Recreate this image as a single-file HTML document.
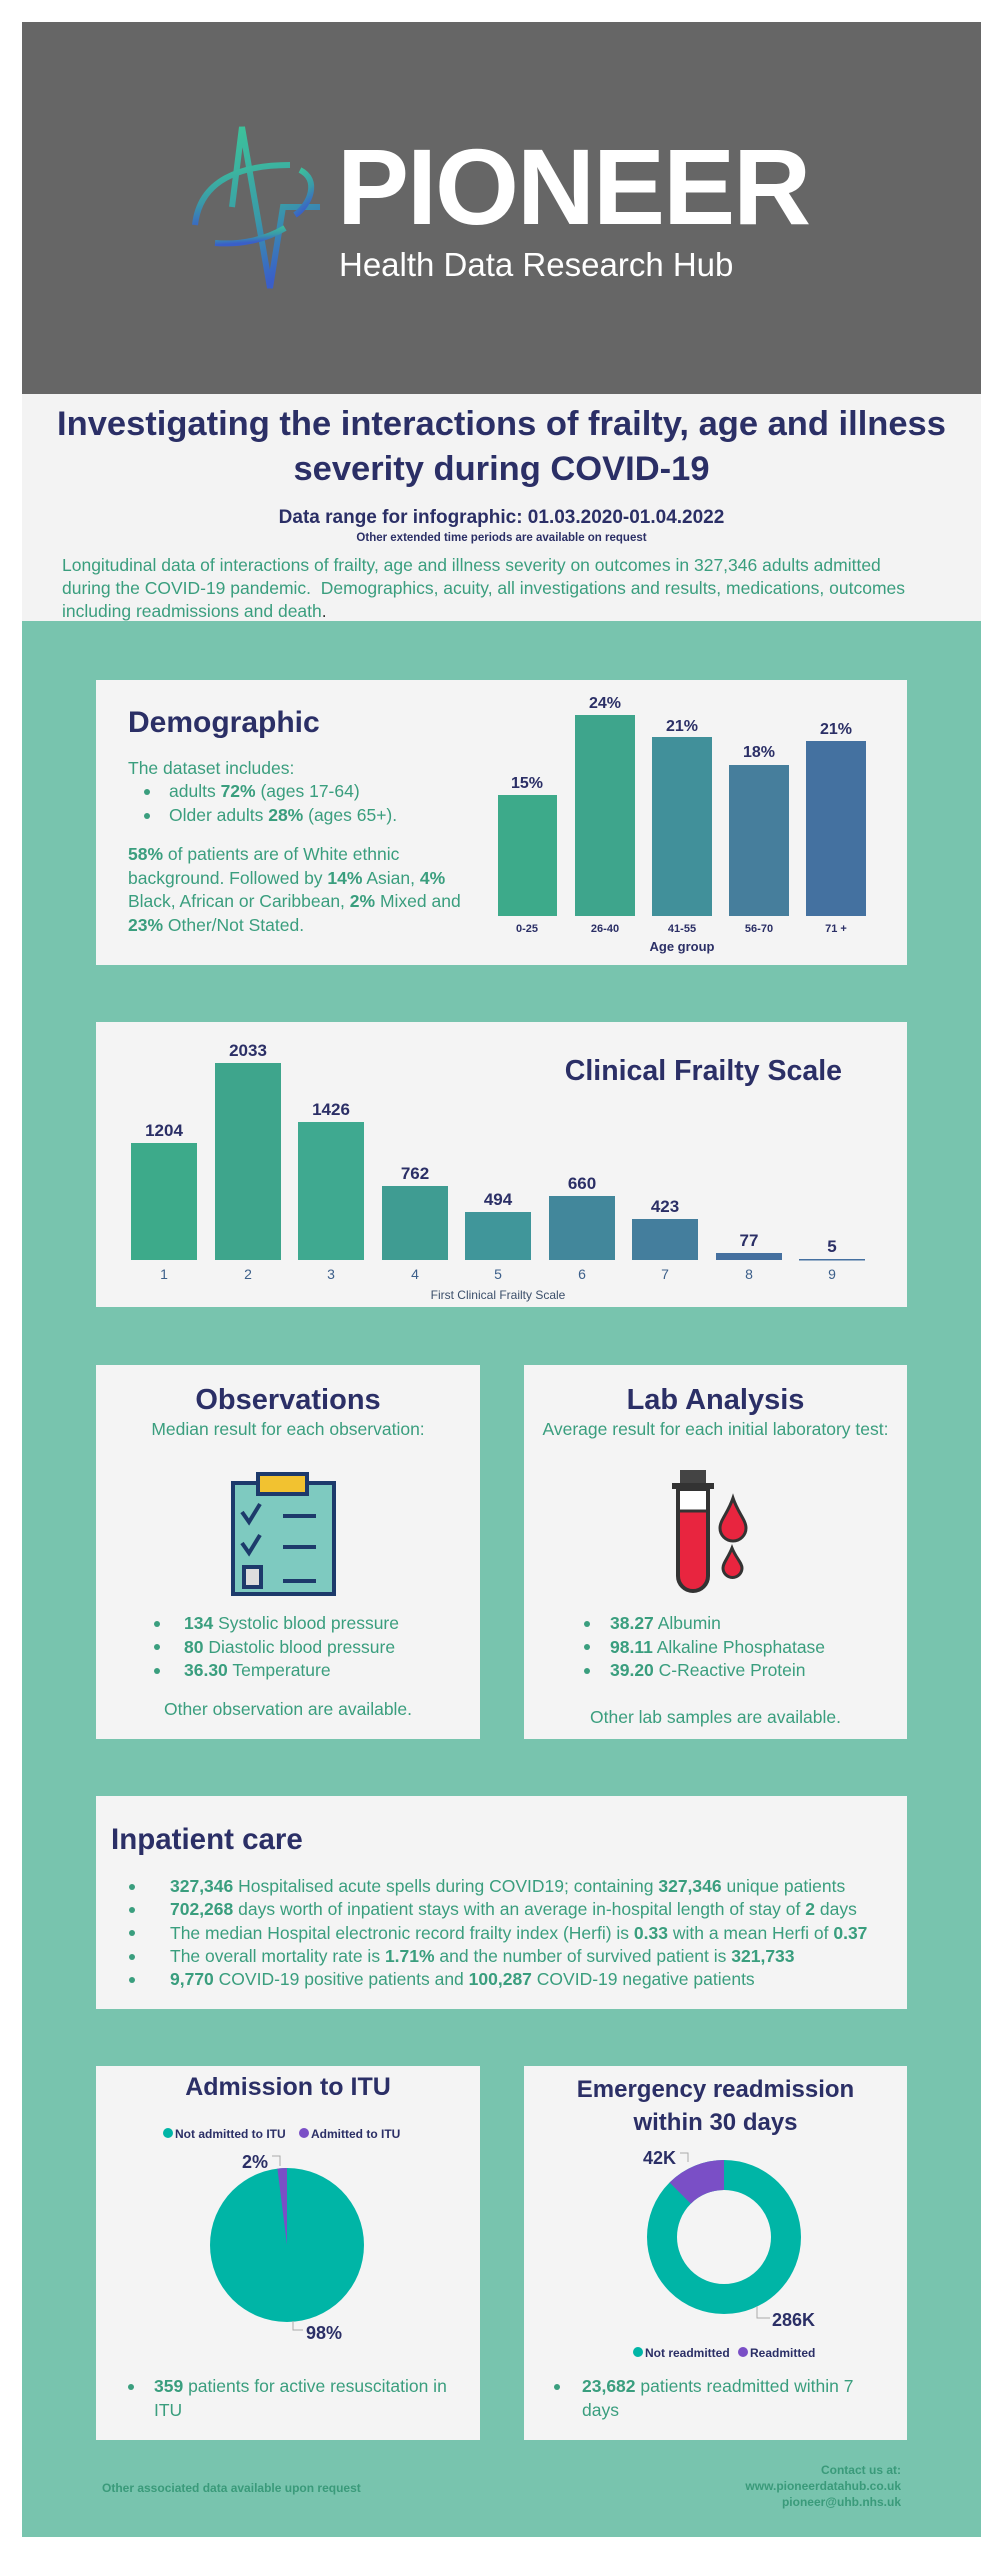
<!DOCTYPE html>
<html><head><meta charset="utf-8"><style>
*{margin:0;padding:0;box-sizing:border-box}
body{width:1003px;height:2560px;background:#fff;position:relative;font-family:"Liberation Sans Narrow","Liberation Sans",sans-serif;overflow:hidden}
.a{position:absolute;white-space:nowrap}
.card{position:absolute;background:#f4f4f4}
.nv{color:#2b2f66;font-weight:bold}
.gr{color:#3a9e7e}
b{font-weight:bold}
.c{text-align:center}
.bl{position:absolute;width:6px;height:6px;border-radius:50%;background:#3a9e7e}
</style></head><body>
<div class="a" style="left:22px;top:22px;width:959px;height:372px;background:#666"></div>
<svg class="a" style="left:170px;top:110px" width="170" height="200" viewBox="170 110 170 200">
<defs><linearGradient id="g" x1="0" y1="0" x2="0.3" y2="1"><stop offset="0" stop-color="#3dc49a"/><stop offset="0.6" stop-color="#3a9aa8"/><stop offset="1" stop-color="#3a5fc8"/></linearGradient></defs>
<g fill="none" stroke="url(#g)" stroke-width="6">
<path d="M232 207 L242 127 L270 288 L283 207 L320 207"/>
<path d="M185 207 L228 207"/>
<path d="M290 165 C240 165 200 180 195 225"/>
<path d="M300 170 C320 180 310 205 295 215"/>
<path d="M215 243 C240 245 265 240 285 228"/>
</g>
</svg>
<div class="a" style="left:337px;top:122px;font-family:'Liberation Sans',sans-serif;font-weight:bold;font-size:108px;line-height:130px;color:#fff;letter-spacing:-2px">PIONEER</div>
<div class="a" style="left:339px;top:245px;font-size:33px;line-height:40px;color:#fff">Health Data Research Hub</div>
<div class="a" style="left:22px;top:394px;width:959px;height:227px;background:#f3f3f3"></div>
<div class="a nv c" style="left:22px;top:402px;width:959px;font-size:34.5px;line-height:45px">Investigating the interactions of frailty, age and illness</div>
<div class="a nv c" style="left:22px;top:447px;width:959px;font-size:34.5px;line-height:45px">severity during COVID-19</div>
<div class="a nv c" style="left:22px;top:507px;width:959px;font-size:19px;line-height:22px">Data range for infographic: 01.03.2020-01.04.2022</div>
<div class="a nv c" style="left:22px;top:531px;width:959px;font-size:11.5px;line-height:14px">Other extended time periods are available on request</div>
<div class="a gr" style="left:62px;top:554px;font-size:17.5px;line-height:23px">Longitudinal data of interactions of frailty, age and illness severity on outcomes in 327,346 adults admitted<br>during the COVID-19 pandemic.&nbsp; Demographics, acuity, all investigations and results, medications, outcomes<br>including readmissions and death<span style="color:#333">.</span></div>
<div class="a" style="left:22px;top:621px;width:959px;height:1916px;background:#78c4ae"></div>

<!-- Demographic -->
<div class="card" style="left:96px;top:680px;width:811px;height:285px"></div>
<div class="a nv" style="left:128px;top:704px;font-size:30px;line-height:38px">Demographic</div>
<div class="a gr" style="left:128px;top:757px;font-size:17.5px;line-height:23.5px">The dataset includes:</div>
<div class="bl" style="left:144px;top:789px"></div><div class="bl" style="left:144px;top:813px"></div>
<div class="a gr" style="left:169px;top:780px;font-size:17.5px;line-height:23.5px">adults <b>72%</b> (ages 17-64)<br>Older adults <b>28%</b> (ages 65+).</div>
<div class="a gr" style="left:128px;top:843px;font-size:17.5px;line-height:23.5px"><b>58%</b> of patients are of White ethnic<br>background. Followed by <b>14%</b> Asian, <b>4%</b><br>Black, African or Caribbean, <b>2%</b> Mixed and<br><b>23%</b> Other/Not Stated.</div>
<svg class="a" style="left:480px;top:680px" width="420" height="285" viewBox="480 680 420 285" font-family="Liberation Sans Narrow,Liberation Sans,sans-serif" font-weight="bold" text-anchor="middle">
<rect x="498" y="795" width="59" height="121" fill="#3daa8a"/>
<rect x="575" y="715" width="60" height="201" fill="#3ea58c"/>
<rect x="652" y="737" width="60" height="179" fill="#41909a"/>
<rect x="729" y="765" width="60" height="151" fill="#467e9c"/>
<rect x="806" y="741" width="60" height="175" fill="#4471a0"/>
<g fill="#2b2f66" font-size="16"><text x="527" y="788">15%</text><text x="605" y="708">24%</text><text x="682" y="731">21%</text><text x="759" y="757">18%</text><text x="836" y="734">21%</text></g>
<g fill="#2b2f66" font-size="11"><text x="527" y="932">0-25</text><text x="605" y="932">26-40</text><text x="682" y="932">41-55</text><text x="759" y="932">56-70</text><text x="836" y="932">71 +</text></g>
<text x="682" y="951" fill="#2b2f66" font-size="13">Age group</text>
</svg>

<!-- Frailty -->
<div class="card" style="left:96px;top:1022px;width:811px;height:285px"></div>
<div class="a nv" style="right:161px;top:1053px;font-size:28.5px;line-height:36px">Clinical Frailty Scale</div>
<svg class="a" style="left:96px;top:1022px" width="811" height="285" viewBox="96 1022 811 285" font-family="Liberation Sans Narrow,Liberation Sans,sans-serif" text-anchor="middle">
<rect x="131" y="1143" width="66" height="117" fill="#3daa8a"/>
<rect x="215" y="1063" width="66" height="197" fill="#3ea58c"/>
<rect x="298" y="1122" width="66" height="138" fill="#3fa990"/>
<rect x="382" y="1186" width="66" height="74" fill="#3f9c92"/>
<rect x="465" y="1212" width="66" height="48" fill="#40969a"/>
<rect x="549" y="1196" width="66" height="64" fill="#42879b"/>
<rect x="632" y="1219" width="66" height="41" fill="#447e9d"/>
<rect x="716" y="1253" width="66" height="7" fill="#45709f"/>
<rect x="799" y="1259" width="66" height="1.5" fill="#4570a0"/>
<g fill="#2b2f66" font-size="17" font-weight="bold"><text x="164" y="1136">1204</text><text x="248" y="1056">2033</text><text x="331" y="1115">1426</text><text x="415" y="1179">762</text><text x="498" y="1205">494</text><text x="582" y="1189">660</text><text x="665" y="1212">423</text><text x="749" y="1246">77</text><text x="832" y="1252">5</text></g>
<g fill="#3c5f8a" font-size="14"><text x="164" y="1279">1</text><text x="248" y="1279">2</text><text x="331" y="1279">3</text><text x="415" y="1279">4</text><text x="498" y="1279">5</text><text x="582" y="1279">6</text><text x="665" y="1279">7</text><text x="749" y="1279">8</text><text x="832" y="1279">9</text></g>
<text x="498" y="1299" fill="#3c4f6a" font-size="12">First Clinical Frailty Scale</text>
</svg>

<!-- Observations -->
<div class="card" style="left:96px;top:1365px;width:384px;height:374px"></div>
<div class="a nv c" style="left:96px;top:1382px;width:384px;font-size:29px;line-height:36px">Observations</div>
<div class="a gr c" style="left:96px;top:1418px;width:384px;font-size:17.5px;line-height:23px">Median result for each observation:</div>
<svg class="a" style="left:228px;top:1470px" width="110" height="128" viewBox="0 0 110 128">
<rect x="5" y="13" width="101" height="111" fill="#7ecac0" stroke="#1d3a6b" stroke-width="4"/>
<rect x="30" y="4" width="49" height="20" fill="#f2c230" stroke="#1d3a6b" stroke-width="4"/>
<g stroke="#1d3a6b" stroke-width="4" fill="none"><path d="M14 42 L21 52 L32 34"/><path d="M14 73 L21 83 L32 65"/><path d="M55 46 H88 M55 77 H88 M55 111 H88"/></g>
<rect x="16" y="97" width="17" height="20" fill="#ddd" stroke="#1d3a6b" stroke-width="4"/>
</svg>
<div class="bl" style="left:154px;top:1621px"></div><div class="bl" style="left:154px;top:1644px"></div><div class="bl" style="left:154px;top:1668px"></div>
<div class="a gr" style="left:184px;top:1612px;font-size:17.5px;line-height:23.5px"><b>134</b> Systolic blood pressure<br><b>80</b> Diastolic blood pressure<br><b>36.30</b> Temperature</div>
<div class="a gr c" style="left:96px;top:1698px;width:384px;font-size:17.5px;line-height:23px">Other observation are available.</div>

<!-- Lab -->
<div class="card" style="left:524px;top:1365px;width:383px;height:374px"></div>
<div class="a nv c" style="left:524px;top:1382px;width:383px;font-size:29px;line-height:36px">Lab Analysis</div>
<div class="a gr c" style="left:524px;top:1418px;width:383px;font-size:17.5px;line-height:23px">Average result for each initial laboratory test:</div>
<svg class="a" style="left:668px;top:1468px" width="100" height="130" viewBox="0 0 100 130">
<rect x="12" y="2" width="26" height="16" fill="#444"/>
<rect x="4" y="15" width="42" height="6" fill="#333"/>
<path d="M10 21 V108 A15 15 0 0 0 40 108 V21 Z" fill="#e8253f" stroke="#333" stroke-width="4"/>
<rect x="12" y="23" width="26" height="20" fill="#fff"/>
<path d="M12 43 H38" stroke="#333" stroke-width="3"/>
<path d="M65 30 C60 45 52 52 52 60 A13 13 0 0 0 78 60 C78 52 70 45 65 30 Z" fill="#e8253f" stroke="#333" stroke-width="3"/>
<path d="M64 80 C60 90 55 95 55 100 A9.5 9.5 0 0 0 74 100 C74 95 68 90 64 80 Z" fill="#e8253f" stroke="#333" stroke-width="3"/>
</svg>
<div class="bl" style="left:584px;top:1621px"></div><div class="bl" style="left:584px;top:1644px"></div><div class="bl" style="left:584px;top:1668px"></div>
<div class="a gr" style="left:610px;top:1612px;font-size:17.5px;line-height:23.5px"><b>38.27</b> Albumin<br><b>98.11</b> Alkaline Phosphatase<br><b>39.20</b> C-Reactive Protein</div>
<div class="a gr c" style="left:524px;top:1706px;width:383px;font-size:17.5px;line-height:23px">Other lab samples are available.</div>

<!-- Inpatient -->
<div class="card" style="left:96px;top:1796px;width:811px;height:213px"></div>
<div class="a nv" style="left:111px;top:1822px;font-size:29.5px;line-height:36px">Inpatient care</div>
<div class="bl" style="left:129px;top:1884px"></div><div class="bl" style="left:129px;top:1907px"></div><div class="bl" style="left:129px;top:1930px"></div><div class="bl" style="left:129px;top:1954px"></div><div class="bl" style="left:129px;top:1977px"></div>
<div class="a gr" style="left:170px;top:1875px;font-size:17.5px;line-height:23.3px"><b>327,346</b> Hospitalised acute spells during COVID19; containing <b>327,346</b> unique patients<br><b>702,268</b> days worth of inpatient stays with an average in-hospital length of stay of <b>2</b> days<br>The median Hospital electronic record frailty index (Herfi) is <b>0.33</b> with a mean Herfi of <b>0.37</b><br>The overall mortality rate is <b>1.71%</b> and the number of survived patient is <b>321,733</b><br><b>9,770</b> COVID-19 positive patients and <b>100,287</b> COVID-19 negative patients</div>

<!-- ITU -->
<div class="card" style="left:96px;top:2066px;width:384px;height:374px"></div>
<div class="a nv c" style="left:96px;top:2071px;width:384px;font-size:25px;line-height:32px">Admission to ITU</div>
<svg class="a" style="left:96px;top:2066px" width="384" height="300" viewBox="96 2066 384 300" font-family="Liberation Sans Narrow,Liberation Sans,sans-serif" font-weight="bold">
<circle cx="168" cy="2133" r="5" fill="#00b5a6"/><text x="175" y="2138" font-size="12" fill="#2b2f66">Not admitted to ITU</text>
<circle cx="304" cy="2133" r="5" fill="#7a4fc6"/><text x="311" y="2138" font-size="12" fill="#2b2f66">Admitted to ITU</text>
<circle cx="287" cy="2245" r="77" fill="#00b5a6"/>
<path d="M287 2245 L287 2168 A77 77 0 0 0 277.4 2168.6 Z" fill="#7a4fc6"/>
<path d="M272 2156 H280 V2166" stroke="#aaa" fill="none"/>
<path d="M293 2321 V2330 H303" stroke="#aaa" fill="none"/>
<text x="268" y="2168" font-size="18" fill="#2b2f66" text-anchor="end">2%</text>
<text x="306" y="2339" font-size="18" fill="#2b2f66">98%</text>
</svg>
<div class="bl" style="left:128px;top:2384px"></div>
<div class="a gr" style="left:154px;top:2375px;font-size:17.5px;line-height:23.5px"><b>359</b> patients for active resuscitation in<br>ITU</div>

<!-- Readmission -->
<div class="card" style="left:524px;top:2066px;width:383px;height:374px"></div>
<div class="a nv c" style="left:524px;top:2073px;width:383px;font-size:24px;line-height:33px">Emergency readmission<br>within 30 days</div>
<svg class="a" style="left:524px;top:2066px" width="383" height="300" viewBox="524 2066 383 300" font-family="Liberation Sans Narrow,Liberation Sans,sans-serif" font-weight="bold">
<circle cx="724" cy="2237" r="62" fill="none" stroke="#00b5a6" stroke-width="30"/>
<path d="M724 2237 m0 -77 A77 77 0 0 0 669.6 2182.5 L690.8 2203.7 A47 47 0 0 1 724 2190 Z" fill="#7a4fc6"/>
<path d="M680 2153 H688 V2162" stroke="#aaa" fill="none"/>
<path d="M757 2306 V2318 H770" stroke="#aaa" fill="none"/>
<text x="676" y="2164" font-size="18" fill="#2b2f66" text-anchor="end">42K</text>
<text x="772" y="2326" font-size="18" fill="#2b2f66">286K</text>
<circle cx="638" cy="2352" r="5" fill="#00b5a6"/><text x="645" y="2357" font-size="12" fill="#2b2f66">Not readmitted</text>
<circle cx="743" cy="2352" r="5" fill="#7a4fc6"/><text x="750" y="2357" font-size="12" fill="#2b2f66">Readmitted</text>
</svg>
<div class="bl" style="left:554px;top:2384px"></div>
<div class="a gr" style="left:582px;top:2375px;font-size:17.5px;line-height:23.5px"><b>23,682</b> patients readmitted within 7<br>days</div>

<div class="a" style="left:102px;top:2481px;font-size:12px;font-weight:bold;color:#3a9a7a">Other associated data available upon request</div>
<div class="a" style="right:102px;top:2462px;font-size:12px;line-height:16px;font-weight:bold;color:#3a9a7a;text-align:right">Contact us at:<br>www.pioneerdatahub.co.uk<br>pioneer@uhb.nhs.uk</div>
</body></html>
